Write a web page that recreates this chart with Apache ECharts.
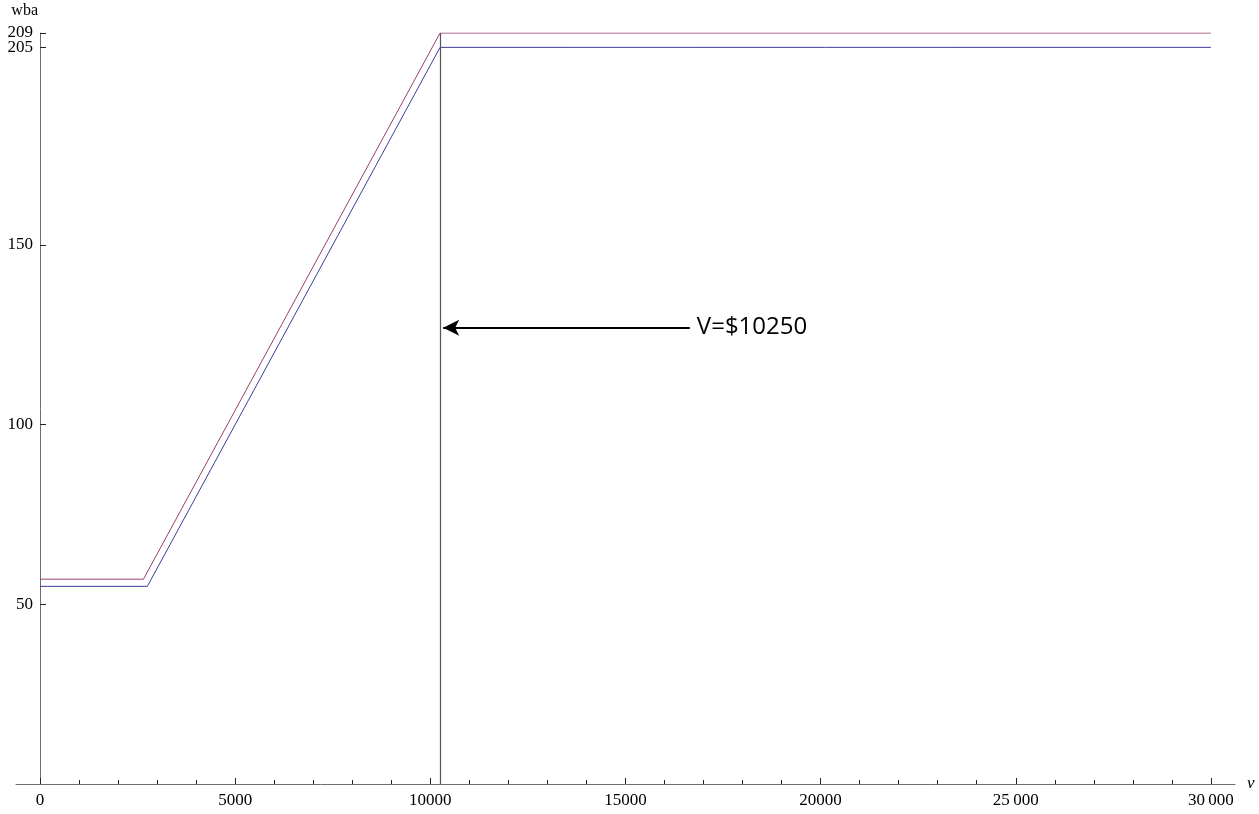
<!DOCTYPE html>
<html>
<head>
<meta charset="utf-8">
<script src="https://cdn.jsdelivr.net/npm/echarts@6/dist/echarts.min.js"></script>
<style>
  html, body { margin: 0; padding: 0; background: #ffffff; }
  #chart { width: 1259px; height: 814px; }
</style>
</head>
<body>
<div id="chart"></div>
<script>
// Weekly benefit amount (wba) as a function of base-period wages v
const seriesLowV = [0, 2750, 10250, 30000];
const seriesLowWba = [55, 55, 205, 205];
const seriesHighV = [0, 2650, 10250, 30000];
const seriesHighWba = [57, 57, 209, 209];

const xMajorTicks = [0, 5000, 10000, 15000, 20000, 25000, 30000];
const xMajorLabels = ['0', '5000', '10000', '15000', '20000', '25\u2009000', '30\u2009000'];
const xMinorTicks = [1000, 2000, 3000, 4000, 6000, 7000, 8000, 9000, 11000, 12000, 13000, 14000,
  16000, 17000, 18000, 19000, 21000, 22000, 23000, 24000, 26000, 27000, 28000, 29000];
const yTicks = [50, 100, 150, 205];
const yTopTicks = [209];
const yMax = 209;

const capV = 10250;          // wage level where the benefit reaches its maximum
const capLabel = 'V=$10250';
const arrowFromV = 16650;    // arrow tail (x) and height (y) for the annotation
const arrowToV = 10330;
const arrowWba = 127;

const axisColor = '#6e6e6e';
const tickColor = '#222222';
const serif = 'Liberation Serif';

function pairs(xs, ys) { return xs.map((x, i) => [x, ys[i]]); }

const chart = echarts.init(document.getElementById('chart'), null, { renderer: 'canvas' });

const xBase = {
  type: 'value',
  position: 'bottom',
  min: -615,
  max: 30617,
  splitLine: { show: false },
  axisLine: { show: true, onZero: true, lineStyle: { color: axisColor, width: 1 } }
};

// labels are laid out from the grid edge, so pull them in to sit beside the axis line at v = 0
const yLabelStyle = { show: true, margin: -17, hideOverlap: false, showMaxLabel: true,
  fontFamily: serif, fontSize: 17, color: '#000' };

const yBase = {
  type: 'value',
  position: 'left',
  min: 0,
  max: yMax,
  splitLine: { show: false }
};

chart.setOption({
  animation: false,
  backgroundColor: '#ffffff',
  grid: { left: 16, right: 24, top: 33, bottom: 30, containLabel: false, outerBoundsMode: 'none' },
  xAxis: [
    Object.assign({}, xBase, {
      axisTick: { show: true, inside: true, length: 6, customValues: xMajorTicks,
        lineStyle: { color: tickColor, width: 1 } },
      axisLabel: { show: true, customValues: xMajorTicks, margin: 8, hideOverlap: false,
        fontFamily: serif, fontSize: 17, color: '#000',
        formatter: v => xMajorLabels[xMajorTicks.indexOf(v)] },
      name: 'v',
      nameLocation: 'end',
      nameGap: 12,
      nameTextStyle: { fontFamily: serif, fontStyle: 'italic', fontSize: 17, color: '#000',
        verticalAlign: 'middle', padding: [0, 0, 2, 0] }
    }),
    Object.assign({}, xBase, {
      axisLine: { show: false, onZero: true },
      axisTick: { show: true, inside: true, length: 4, customValues: xMinorTicks,
        lineStyle: { color: tickColor, width: 1 } },
      axisLabel: { show: false }
    })
  ],
  yAxis: [
    Object.assign({}, yBase, {
      axisLine: { show: true, onZero: true, lineStyle: { color: axisColor, width: 1 } },
      axisTick: { show: true, inside: true, length: 6, customValues: yTicks,
        lineStyle: { color: tickColor, width: 1 } },
      axisLabel: Object.assign({ customValues: yTicks }, yLabelStyle),
      name: 'wba',
      nameLocation: 'end',
      nameGap: 14,
      nameTextStyle: { fontFamily: serif, fontSize: 16, color: '#000', align: 'right', padding: [0, 2, 0, 0] }
    }),
    // the top value gets its own axis so its label can sit right on top of 205
    Object.assign({}, yBase, {
      axisLine: { show: false, onZero: true },
      axisTick: { show: true, inside: true, length: 6, customValues: yTopTicks,
        lineStyle: { color: tickColor, width: 1 } },
      axisLabel: Object.assign({ customValues: yTopTicks }, yLabelStyle)
    })
  ],
  series: [
    {
      type: 'line',
      data: pairs(seriesLowV, seriesLowWba),
      showSymbol: false,
      lineStyle: { color: '#3d3d99', width: 1 },
      itemStyle: { color: '#3d3d99' },
      z: 3,
      markLine: {
        silent: true,
        symbol: ['none', 'none'],
        label: { show: false },
        lineStyle: { color: '#555555', width: 1.2, type: 'solid' },
        data: [[{ coord: [capV, 0] }, { coord: [capV, yMax] }]]
      }
    },
    {
      type: 'line',
      data: pairs(seriesHighV, seriesHighWba),
      showSymbol: false,
      lineStyle: { color: '#993d71', width: 1 },
      itemStyle: { color: '#993d71' },
      z: 3,
      markLine: {
        silent: true,
        symbol: ['none', 'arrow'],
        symbolSize: [12, 16],
        lineStyle: { color: '#000000', width: 2, type: 'solid' },
        label: {
          show: true,
          position: 'start',
          distance: 7,
          formatter: capLabel,
          fontFamily: 'Open Sans',
          fontSize: 24,
          color: '#000'
        },
        data: [[{ coord: [arrowFromV, arrowWba] }, { coord: [arrowToV, arrowWba] }]]
      }
    }
  ]
});
</script>
</body>
</html>
